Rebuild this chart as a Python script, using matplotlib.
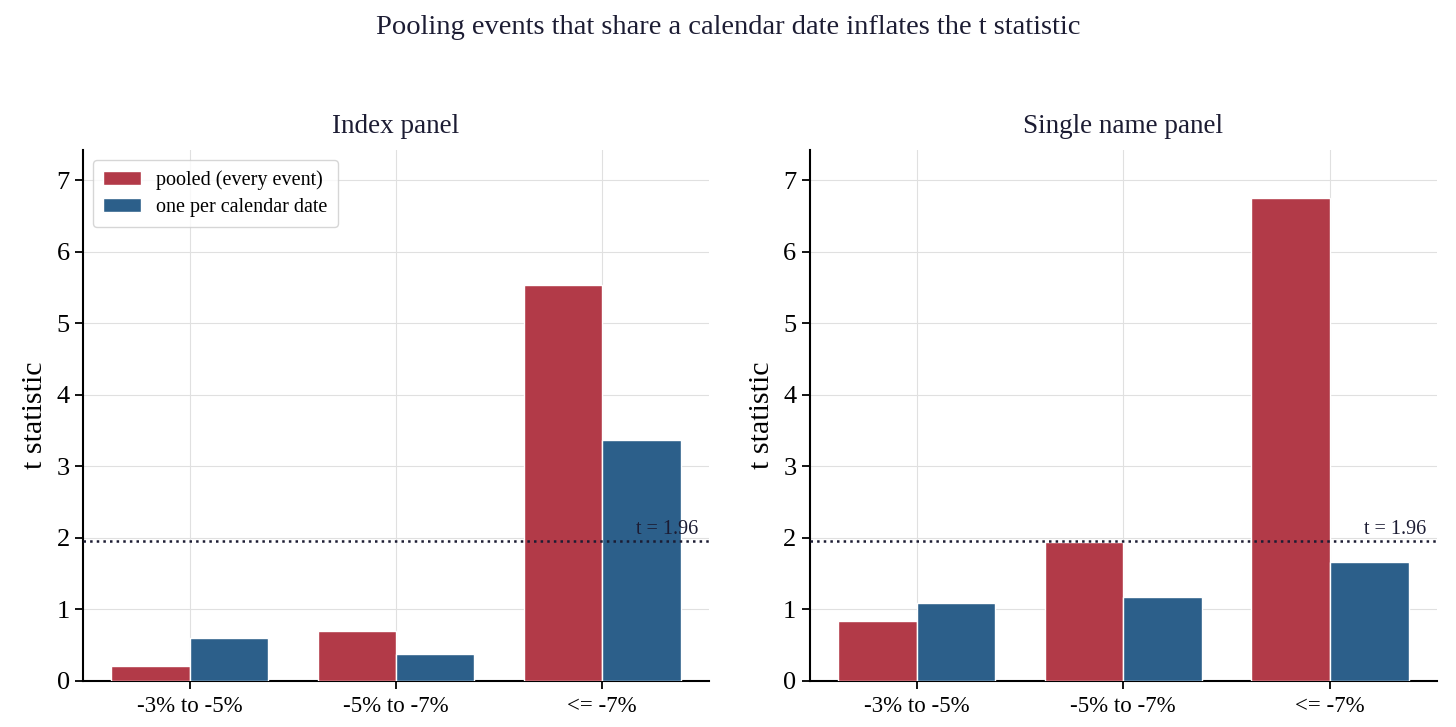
import numpy as np
import matplotlib
matplotlib.use("Agg")
import matplotlib.pyplot as plt

plt.rcParams['font.family'] = ['Liberation Serif', 'DejaVu Serif']

# datos
buckets = ["-3% to -5%", "-5% to -7%", "<= -7%"]
index_pooled = [0.21, 0.70, 5.54]
index_one_per_date = [0.60, 0.38, 3.37]
single_pooled = [0.84, 1.95, 6.75]
single_one_per_date = [1.09, 1.18, 1.66]
t_crit = 1.96

red = "#b23a48"
blue = "#2c5f8a"
navy = "#1c1c33"

fig = plt.figure(figsize=(14.56, 7.27), dpi=100)
ax1 = fig.add_axes([0.057, 0.0633, 0.430, 0.7304])
ax2 = fig.add_axes([0.556, 0.0633, 0.431, 0.7304])

x = np.arange(len(buckets))
w = 0.38
ymax = max(max(single_pooled), max(index_pooled)) * 1.1

panels = [(ax1, "Index panel", index_pooled, index_one_per_date),
          (ax2, "Single name panel", single_pooled, single_one_per_date)]

for i, (ax, title, pooled, onedate) in enumerate(panels):
    ax.bar(x - w / 2, pooled, w, color=red, edgecolor="white", linewidth=1,
           label="pooled (every event)", zorder=3)
    ax.bar(x + w / 2, onedate, w, color=blue, edgecolor="white", linewidth=1,
           label="one per calendar date", zorder=3)
    ax.axhline(t_crit, color=navy, linestyle=":", linewidth=1.8, zorder=4)
    ax.text(x[-1] + w * 1.22, t_crit + 0.03, "t = 1.96", ha="right", va="bottom",
            fontsize=14.5, color=navy, zorder=5)
    ax.set_ylim(0, ymax)
    ax.set_xticks(x)
    ax.set_xticklabels(buckets, fontsize=16.5)
    ax.tick_params(axis="y", labelsize=19, width=1.3, length=6)
    ax.tick_params(axis="x", width=1.3, length=6, pad=5)
    ax.set_ylabel("t statistic", fontsize=21.5, labelpad=6)
    ax.set_title(title, fontsize=19.5, color=navy, pad=12)
    ax.grid(True, color="#e0e0e0", linewidth=0.8, zorder=0)
    ax.set_axisbelow(True)
    for s in ["top", "right"]:
        ax.spines[s].set_visible(False)
    for s in ["left", "bottom"]:
        ax.spines[s].set_linewidth(1.5)
    if i == 0:
        ax.legend(loc="upper left", fontsize=14.5, frameon=True, edgecolor="#cccccc",
                  handlelength=1.9, handleheight=0.7, borderpad=0.5,
                  handletextpad=0.75, labelspacing=0.4)

fig.suptitle("Pooling events that share a calendar date inflates the t statistic",
             fontsize=20.5, color=navy, y=0.98)

plt.savefig("out.png", dpi=100)
